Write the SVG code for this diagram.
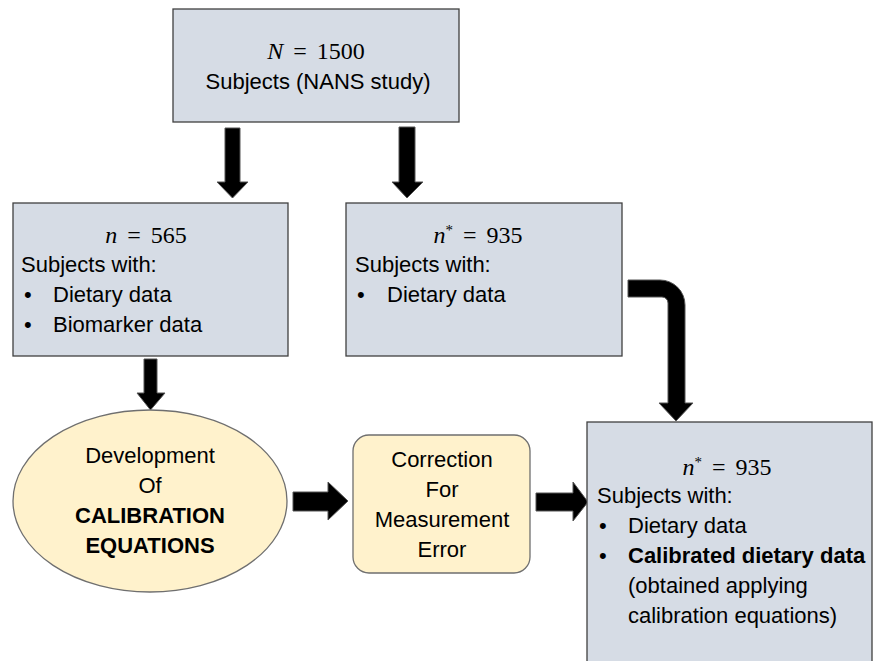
<svg xmlns="http://www.w3.org/2000/svg" width="874" height="661" viewBox="0 0 874 661">
<style>
.box{fill:#D6DCE5;stroke:#404040;stroke-width:1.3}
.yel{fill:#FFF2CC;stroke:#6f6f6f;stroke-width:1.3}
.t{font-family:"Liberation Sans",Arial,sans-serif;font-size:22px;fill:#000}
.c{text-anchor:middle}
.b{font-weight:bold}
.m{font-family:"Liberation Serif","Times New Roman",serif;font-size:24px;fill:#000;text-anchor:middle}
.arr{fill:#000;stroke:#555;stroke-width:1}
</style>
<rect width="874" height="661" fill="#fff"/>
<g id="connectors">
<polygon class="arr" points="225,128 240,128 240,182 248,182 232.5,198 217,182 225,182"/>
<polygon class="arr" points="399,127 415,127 415,182 423,182 407,198 392,182 399,182"/>
<polygon class="arr" points="144,359 157,359 157,393 165,393 150.5,410 137,393 144,393"/>
<polygon class="arr" points="293,492 328,492 328,482 348,501 328,520 328,511 293,511"/>
<polygon class="arr" points="536,493 573,493 573,482 588,502 573,521 573,511 536,511"/>
<path class="arr" d="M628,280 L660,280 A25,25 0 0 1 685,305 L685,403 L693,403 L676,421 L659,403 L668,403 L668,303 A6,6 0 0 0 662,297 L628,297 Z"/>
</g>
<g id="top">
<rect class="box" x="173" y="9" width="286" height="113"/>
<text class="m" x="316" y="59"><tspan font-style="italic">N</tspan><tspan dx="10">=</tspan><tspan dx="10">1500</tspan></text>
<text class="t c" x="318" y="89">Subjects (NANS study)</text>
</g>
<g id="n565">
<rect class="box" x="13" y="203" width="275" height="153"/>
<text class="m" x="146" y="243"><tspan font-style="italic">n</tspan><tspan dx="10">=</tspan><tspan dx="10">565</tspan></text>
<text class="t" x="21" y="272">Subjects with:</text>
<text class="t" x="24" y="302">•</text>
<text class="t" x="53" y="302">Dietary data</text>
<text class="t" x="24" y="332">•</text>
<text class="t" x="53" y="332">Biomarker data</text>
</g>
<g id="n935a">
<rect class="box" x="346" y="203" width="276" height="153"/>
<text class="m" x="478" y="243"><tspan font-style="italic">n</tspan><tspan dy="-8" font-size="15">*</tspan><tspan dx="10" dy="8">=</tspan><tspan dx="10">935</tspan></text>
<text class="t" x="355" y="272">Subjects with:</text>
<text class="t" x="357" y="302">•</text>
<text class="t" x="387" y="302">Dietary data</text>
</g>
<g id="ellipse">
<ellipse class="yel" cx="150" cy="501" rx="137" ry="91"/>
<text class="t c" x="150" y="463" font-size="22.5">Development</text>
<text class="t c" x="150" y="493" font-size="22.5">Of</text>
<text class="t c b" x="150" y="523" font-size="19.5">CALIBRATION</text>
<text class="t c b" x="150" y="553" font-size="19.5">EQUATIONS</text>
</g>
<g id="correction">
<rect class="yel" x="353" y="435" width="177" height="138" rx="16"/>
<text class="t c" x="442" y="467" font-size="23">Correction</text>
<text class="t c" x="442" y="497" font-size="23">For</text>
<text class="t c" x="442" y="527" font-size="23">Measurement</text>
<text class="t c" x="442" y="557" font-size="23">Error</text>
</g>
<g id="n935b">
<rect class="box" x="587" y="422" width="285" height="260"/>
<text class="m" x="727" y="475"><tspan font-style="italic">n</tspan><tspan dy="-8" font-size="15">*</tspan><tspan dx="10" dy="8">=</tspan><tspan dx="10">935</tspan></text>
<text class="t" x="597" y="503">Subjects with:</text>
<text class="t" x="599" y="533">•</text>
<text class="t" x="628" y="533">Dietary data</text>
<text class="t" x="599" y="563">•</text>
<text class="t b" x="628" y="563" font-size="20">Calibrated dietary data</text>
<text class="t" x="628" y="593">(obtained applying</text>
<text class="t" x="628" y="623">calibration equations)</text>
</g>
</svg>
